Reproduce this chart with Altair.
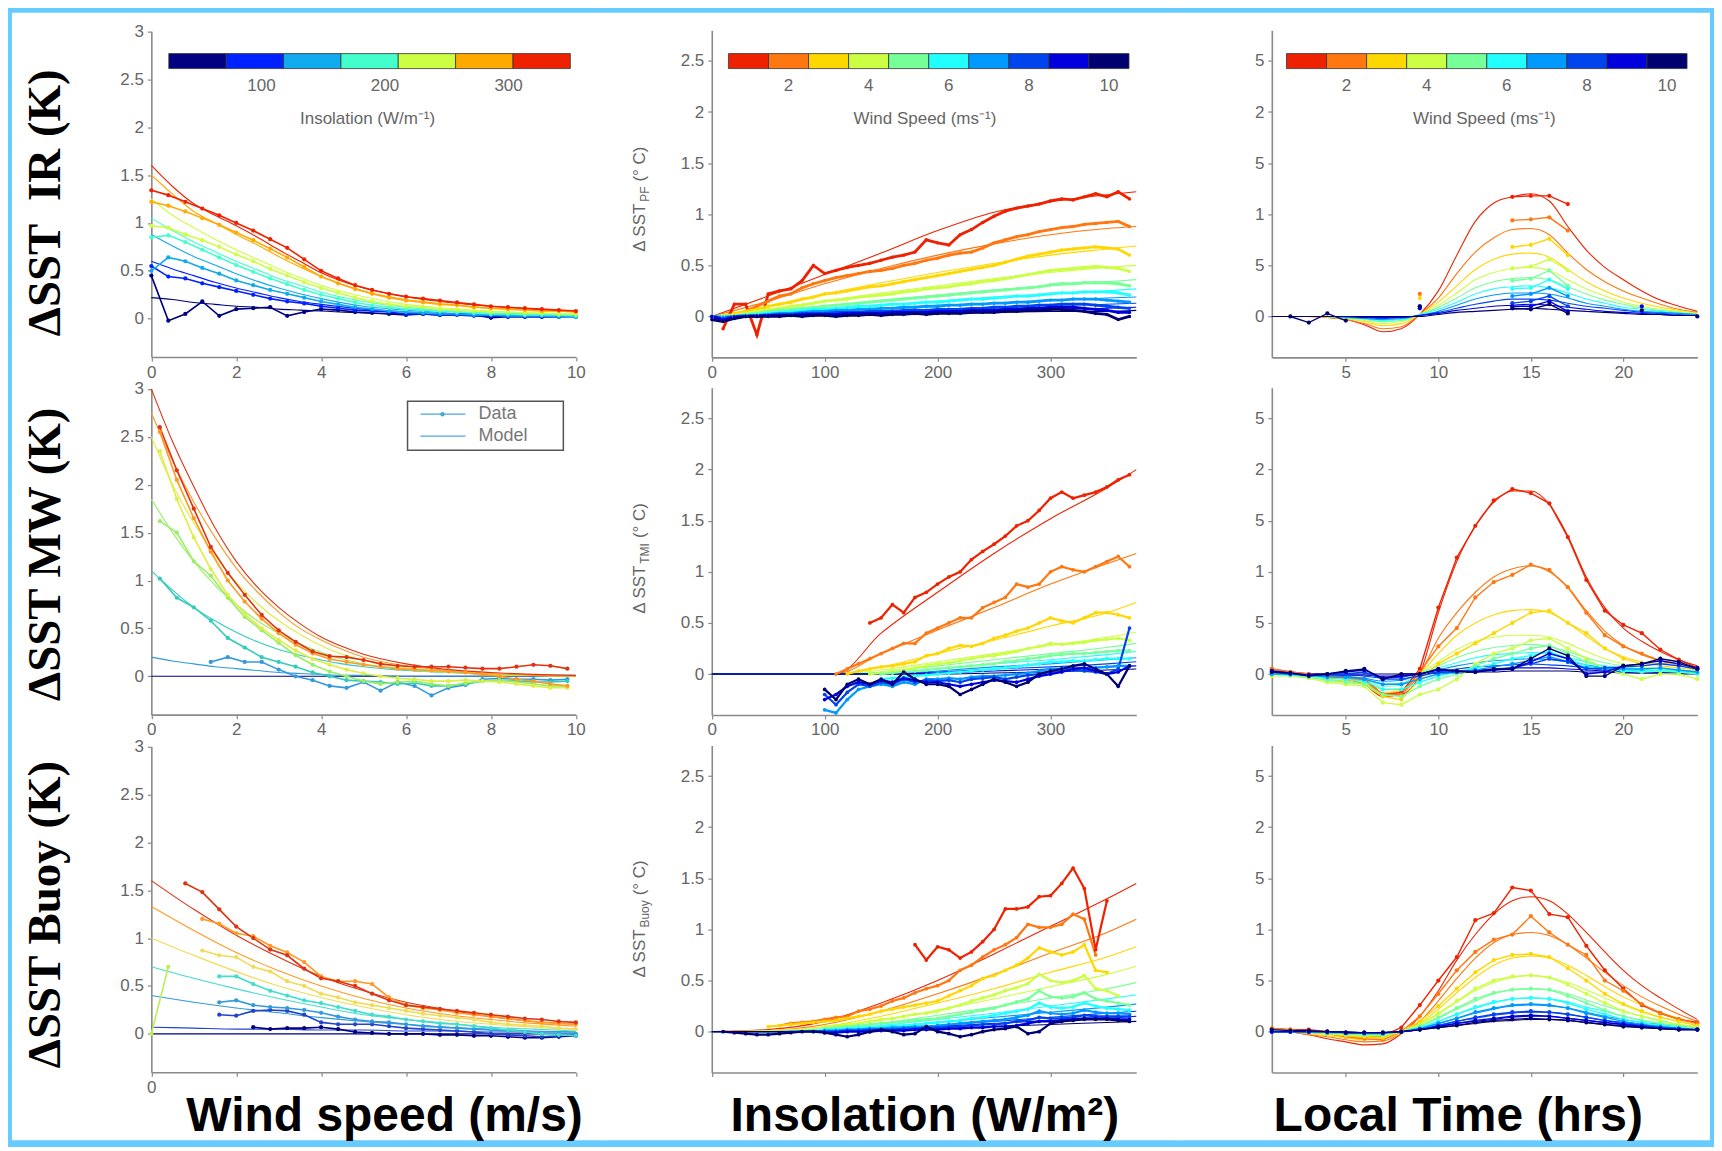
import altair as alt
import pandas as pd

N = None

# ---------------- classes and colours ----------------
INSOL_CLASSES = ["I1", "I2", "I3", "I4", "I5", "I6", "I7"]
INSOL_COLORS = ["#000080", "#0022FF", "#11AAEE", "#44FFCC", "#CCFF44", "#FFAA00", "#EE2200"]
MW_CLASSES = ["M1", "M2", "M3", "M4", "M5", "M6", "M7"]
MW_COLORS = ["#000080", "#3399DD", "#33CCBB", "#99EE66", "#DDEE44", "#FF9922", "#DD3311"]
BUOY_CLASSES = ["B1", "B2", "B3", "B4", "B5", "B6", "B7", "B8"]
BUOY_COLORS = ["#000080", "#2244CC", "#3399DD", "#44DDCC", "#BBEE55", "#EEDD55", "#FF9922", "#DD3311"]
WIND_CLASSES = ["W1", "W2", "W3", "W4", "W5", "W6", "W7", "W8", "W9", "W10"]
WIND_COLORS = ["#EE2200", "#FF7711", "#FFD700", "#CCFF44", "#77FF99", "#22FFFF",
               "#0099FF", "#0044EE", "#0000DD", "#000070"]

# colour bars
INSOL_CB_EDGES = [25, 71.4, 117.9, 164.3, 210.7, 257.1, 303.6, 350]
INSOL_CB_TICKS = [100, 200, 300]
WIND_CB_EDGES = [0.5, 1.5, 2.5, 3.5, 4.5, 5.5, 6.5, 7.5, 8.5, 9.5, 10.5]
WIND_CB_TICKS = [2, 4, 6, 8, 10]

# texts
ROW_TITLES = ["\u0394SST \u00a0IR (K)", "\u0394SST MW (K)", "\u0394SST Buoy (K)"]
COL_TITLES = ["Wind speed (m/s)", "Insolation (W/m\u00b2)", "Local Time (hrs)"]
YLABEL_MAIN = "\u0394 SST"
YLABEL_SUBS = ["PF", "TMI", "Buoy"]
YLABEL_UNIT = "(\u00b0 C)"
CB_TITLES = ["Insolation (W/m\u207b\u00b9)", "Wind Speed (ms\u207b\u00b9)", "Wind Speed (ms\u207b\u00b9)"]
LEGEND_LABELS = ["Data", "Model"]

# ---------------- tick values ----------------
WS_TICKS = [0, 2, 4, 6, 8, 10]
INS_TICKS = [0, 100, 200, 300]
LT_TICKS = [5, 10, 15, 20]
Y3_TICKS = [0, 0.5, 1, 1.5, 2, 2.5, 3]
Y25_TICKS = [0, 0.5, 1, 1.5, 2, 2.5]

# =============== Panel 1,1 : IR vs wind speed (classes I1..I7) ===============
IR_WS_X = [0.0, 0.4, 0.8, 1.2, 1.6, 2.0, 2.4, 2.8, 3.2, 3.6, 4.0, 4.4, 4.8, 5.2, 5.6,
           6.0, 6.4, 6.8, 7.2, 7.6, 8.0, 8.4, 8.8, 9.2, 9.6, 10.0]
IR_WS_DATA = [
    [0.45, -0.02, 0.05, 0.18, 0.03, 0.10, 0.11, 0.12, 0.03, 0.07, 0.10, 0.09, 0.07, 0.06, 0.05, 0.04, 0.05, 0.04, 0.05, 0.04, 0.01, 0.02, 0.02, 0.02, 0.02, 0.03],
    [0.55, 0.44, 0.42, 0.37, 0.33, 0.29, 0.25, 0.21, 0.18, 0.16, 0.13, 0.11, 0.09, 0.08, 0.07, 0.05, 0.05, 0.04, 0.04, 0.03, 0.03, 0.02, 0.02, 0.02, 0.02, 0.02],
    [0.50, 0.64, 0.60, 0.53, 0.47, 0.40, 0.35, 0.30, 0.26, 0.22, 0.18, 0.15, 0.12, 0.10, 0.08, 0.07, 0.06, 0.05, 0.05, 0.04, 0.04, 0.03, 0.03, 0.03, 0.02, 0.02],
    [0.85, 0.87, 0.80, 0.72, 0.64, 0.56, 0.49, 0.42, 0.36, 0.30, 0.25, 0.21, 0.17, 0.14, 0.12, 0.10, 0.09, 0.08, 0.07, 0.06, 0.05, 0.05, 0.04, 0.04, 0.04, 0.03],
    [0.97, 0.95, 0.88, 0.82, 0.75, 0.67, 0.60, 0.52, 0.45, 0.38, 0.32, 0.27, 0.22, 0.18, 0.15, 0.13, 0.12, 0.10, 0.09, 0.08, 0.07, 0.07, 0.06, 0.06, 0.05, 0.05],
    [1.22, 1.18, 1.12, 1.05, 0.98, 0.90, 0.82, 0.73, 0.64, 0.54, 0.44, 0.37, 0.31, 0.26, 0.22, 0.19, 0.17, 0.15, 0.14, 0.12, 0.11, 0.10, 0.09, 0.08, 0.08, 0.07],
    [1.34, 1.29, 1.22, 1.15, 1.08, 1.00, 0.92, 0.83, 0.74, 0.62, 0.50, 0.42, 0.35, 0.30, 0.26, 0.23, 0.21, 0.19, 0.17, 0.15, 0.13, 0.12, 0.11, 0.10, 0.09, 0.08],
]
IR_WS_MODEL_X = [0, 0.5, 1, 1.5, 2, 2.5, 3, 3.5, 4, 5, 6, 7, 8, 9, 10]
IR_WS_MODEL = [
    [0.22, 0.20, 0.17, 0.15, 0.13, 0.12, 0.10, 0.09, 0.08, 0.06, 0.05, 0.04, 0.03, 0.03, 0.02],
    [0.60, 0.52, 0.45, 0.38, 0.32, 0.27, 0.22, 0.18, 0.15, 0.10, 0.07, 0.05, 0.04, 0.03, 0.03],
    [0.88, 0.76, 0.65, 0.56, 0.47, 0.39, 0.32, 0.26, 0.21, 0.13, 0.09, 0.06, 0.05, 0.04, 0.03],
    [1.05, 0.92, 0.80, 0.70, 0.60, 0.51, 0.42, 0.35, 0.28, 0.18, 0.12, 0.08, 0.06, 0.05, 0.04],
    [1.25, 1.08, 0.95, 0.83, 0.72, 0.62, 0.52, 0.43, 0.35, 0.23, 0.15, 0.11, 0.08, 0.06, 0.05],
    [1.50, 1.30, 1.12, 1.00, 0.88, 0.77, 0.65, 0.54, 0.44, 0.29, 0.20, 0.15, 0.11, 0.09, 0.07],
    [1.60, 1.38, 1.20, 1.08, 0.97, 0.85, 0.72, 0.60, 0.48, 0.32, 0.23, 0.17, 0.13, 0.10, 0.08],
]

# =============== Panel 1,2 : IR vs insolation (W1..W10) ===============
IR_INS_X = [0, 10, 20, 30, 40, 50, 60, 70, 80, 90, 100, 110, 120, 130, 140, 150, 160, 170, 180,
            190, 200, 210, 220, 230, 240, 250, 260, 270, 280, 290, 300, 310, 320, 330, 340, 350, 360, 370]
IR_INS_DATA = [
    [N, -0.12, 0.12, 0.12, -0.18, 0.22, 0.25, 0.27, 0.35, 0.50, 0.42, 0.45, 0.48, 0.50, 0.52, 0.55, 0.58, 0.60, 0.63, 0.75, 0.72, 0.70, 0.80, 0.85, 0.92, 0.98, 1.03, 1.06, 1.08, 1.10, 1.13, 1.15, 1.14, 1.17, 1.20, 1.17, 1.22, 1.15],
    [0.00, -0.05, 0.00, 0.05, 0.10, 0.15, 0.20, 0.22, 0.28, 0.32, 0.35, 0.38, 0.40, 0.42, 0.44, 0.45, 0.47, 0.50, 0.52, 0.55, 0.57, 0.60, 0.62, 0.63, 0.67, 0.72, 0.75, 0.78, 0.80, 0.83, 0.85, 0.87, 0.88, 0.90, 0.91, 0.92, 0.93, 0.88],
    [0.00, 0.00, 0.02, 0.05, 0.07, 0.10, 0.12, 0.14, 0.17, 0.19, 0.22, 0.23, 0.25, 0.27, 0.29, 0.30, 0.32, 0.34, 0.36, 0.38, 0.40, 0.42, 0.44, 0.46, 0.48, 0.50, 0.53, 0.56, 0.59, 0.61, 0.63, 0.65, 0.66, 0.67, 0.68, 0.67, 0.66, 0.60],
    [0.00, 0.00, 0.01, 0.03, 0.05, 0.07, 0.08, 0.10, 0.11, 0.13, 0.15, 0.16, 0.17, 0.19, 0.20, 0.21, 0.22, 0.24, 0.25, 0.27, 0.28, 0.29, 0.31, 0.32, 0.34, 0.35, 0.37, 0.39, 0.41, 0.43, 0.45, 0.46, 0.47, 0.48, 0.49, 0.48, 0.47, 0.44],
    [0.00, 0.00, 0.00, 0.02, 0.03, 0.05, 0.06, 0.07, 0.08, 0.09, 0.10, 0.11, 0.12, 0.13, 0.14, 0.15, 0.16, 0.17, 0.18, 0.19, 0.20, 0.21, 0.22, 0.23, 0.24, 0.25, 0.26, 0.27, 0.28, 0.29, 0.31, 0.32, 0.32, 0.33, 0.33, 0.33, 0.32, 0.30],
    [0.00, 0.00, 0.00, 0.01, 0.02, 0.03, 0.04, 0.05, 0.06, 0.07, 0.07, 0.08, 0.09, 0.10, 0.10, 0.11, 0.12, 0.12, 0.13, 0.14, 0.14, 0.15, 0.16, 0.17, 0.17, 0.18, 0.19, 0.20, 0.20, 0.21, 0.22, 0.23, 0.23, 0.24, 0.24, 0.24, 0.23, 0.21],
    [0.00, -0.01, 0.00, 0.01, 0.01, 0.02, 0.03, 0.03, 0.04, 0.05, 0.05, 0.06, 0.06, 0.07, 0.07, 0.08, 0.08, 0.09, 0.09, 0.10, 0.10, 0.11, 0.11, 0.12, 0.12, 0.13, 0.13, 0.14, 0.14, 0.15, 0.16, 0.16, 0.17, 0.17, 0.17, 0.16, 0.15, 0.14],
    [0.00, -0.02, 0.00, 0.00, 0.01, 0.01, 0.02, 0.02, 0.03, 0.03, 0.03, 0.04, 0.04, 0.04, 0.05, 0.05, 0.05, 0.06, 0.06, 0.06, 0.07, 0.07, 0.07, 0.08, 0.08, 0.09, 0.09, 0.10, 0.10, 0.11, 0.11, 0.12, 0.12, 0.12, 0.11, 0.10, 0.09, 0.08],
    [0.00, -0.03, -0.01, 0.00, 0.00, 0.01, 0.01, 0.01, 0.02, 0.02, 0.02, 0.02, 0.03, 0.03, 0.03, 0.03, 0.04, 0.04, 0.04, 0.04, 0.05, 0.05, 0.05, 0.06, 0.06, 0.06, 0.07, 0.07, 0.08, 0.08, 0.09, 0.09, 0.09, 0.08, 0.07, 0.06, 0.04, 0.04],
    [-0.03, -0.05, -0.02, 0.00, 0.00, 0.00, 0.00, 0.01, 0.00, 0.01, 0.01, 0.00, 0.01, 0.01, 0.02, 0.01, 0.02, 0.02, 0.03, 0.02, 0.03, 0.03, 0.03, 0.04, 0.04, 0.04, 0.05, 0.05, 0.06, 0.06, 0.07, 0.07, 0.06, 0.05, 0.03, 0.02, -0.03, 0.00],
]
IR_INS_MODEL_X = [0, 50, 100, 150, 200, 250, 300, 350, 376]
IR_INS_MODEL = [
    [0.00, 0.20, 0.41, 0.62, 0.84, 1.02, 1.12, 1.19, 1.22],
    [0.00, 0.15, 0.32, 0.47, 0.60, 0.71, 0.80, 0.86, 0.88],
    [0.00, 0.10, 0.22, 0.33, 0.43, 0.52, 0.60, 0.66, 0.69],
    [0.00, 0.07, 0.15, 0.23, 0.30, 0.37, 0.43, 0.48, 0.50],
    [0.00, 0.05, 0.10, 0.16, 0.21, 0.26, 0.30, 0.34, 0.36],
    [0.00, 0.03, 0.07, 0.11, 0.15, 0.19, 0.22, 0.25, 0.27],
    [0.00, 0.02, 0.05, 0.08, 0.11, 0.13, 0.16, 0.18, 0.19],
    [0.00, 0.01, 0.03, 0.05, 0.07, 0.09, 0.11, 0.12, 0.13],
    [0.00, 0.01, 0.02, 0.03, 0.05, 0.06, 0.07, 0.08, 0.09],
    [0.00, 0.00, 0.01, 0.02, 0.03, 0.04, 0.05, 0.05, 0.06],
]

# =============== Panel 1,3 : IR vs local time (W1..W10) ===============
HOURS = [1, 2, 3, 4, 5, 6, 7, 8, 9, 10, 11, 12, 13, 14, 15, 16, 17, 18, 19, 20, 21, 22, 23, 24]
IR_LT_DATA = [
    [N] * 13 + [1.17, 1.18, 1.18, 1.10] + [N] * 7,
    [N] * 8 + [0.22] + [N] * 4 + [0.94, 0.95, 0.97, 0.84] + [N] * 7,
    [N] * 8 + [0.18] + [N] * 4 + [0.68, 0.70, 0.76, 0.60] + [N] * 7,
    [N] * 13 + [0.47, 0.49, 0.56, 0.45] + [N] * 7,
    [N] * 13 + [0.35, 0.37, 0.45, 0.30] + [N] * 7,
    [N] * 13 + [0.27, 0.28, 0.36, 0.27] + [N] * 7,
    [N] * 13 + [0.20, 0.22, 0.28, 0.20] + [N] * 7,
    [N] * 8 + [0.10] + [N] * 4 + [0.13, 0.15, 0.20, 0.10] + [N] * 7,
    [N] * 8 + [0.08] + [N] * 4 + [0.10, 0.10, 0.15, 0.05] + [N] * 3 + [0.10] + [N] * 3,
    [N, 0.00, -0.06, 0.03, -0.04] + [N] * 3 + [0.10] + [N] * 4 + [0.08, 0.07, 0.12, 0.03] + [N] * 3 + [0.06] + [N] * 2 + [0.00],
]
IR_LT_MODEL = [
    [0.00, 0.00, 0.00, -0.01, -0.03, -0.08, -0.15, -0.12, 0.02, 0.25, 0.60, 0.93, 1.11, 1.17, 1.20, 1.13, 0.88, 0.65, 0.48, 0.36, 0.25, 0.16, 0.10, 0.05],
    [0.00, 0.00, 0.00, -0.01, -0.03, -0.07, -0.12, -0.10, 0.02, 0.18, 0.42, 0.63, 0.77, 0.85, 0.86, 0.80, 0.62, 0.46, 0.34, 0.25, 0.18, 0.12, 0.07, 0.04],
    [0.00, 0.00, 0.00, -0.01, -0.02, -0.05, -0.09, -0.07, 0.02, 0.14, 0.30, 0.46, 0.56, 0.61, 0.62, 0.58, 0.46, 0.34, 0.25, 0.18, 0.13, 0.09, 0.06, 0.03],
    [0.00, 0.00, 0.00, 0.00, -0.02, -0.04, -0.07, -0.05, 0.02, 0.11, 0.23, 0.36, 0.43, 0.47, 0.48, 0.45, 0.36, 0.27, 0.20, 0.14, 0.10, 0.07, 0.05, 0.03],
    [0.00, 0.00, 0.00, 0.00, -0.01, -0.03, -0.05, -0.04, 0.02, 0.09, 0.18, 0.28, 0.34, 0.37, 0.38, 0.36, 0.29, 0.22, 0.16, 0.12, 0.08, 0.06, 0.04, 0.02],
    [0.00, 0.00, 0.00, 0.00, -0.01, -0.02, -0.04, -0.03, 0.02, 0.07, 0.14, 0.22, 0.27, 0.29, 0.30, 0.28, 0.23, 0.17, 0.13, 0.09, 0.07, 0.05, 0.03, 0.02],
    [0.00, 0.00, 0.00, 0.00, -0.01, -0.02, -0.03, -0.02, 0.01, 0.05, 0.11, 0.17, 0.21, 0.23, 0.23, 0.22, 0.18, 0.13, 0.10, 0.07, 0.05, 0.04, 0.03, 0.02],
    [0.00, 0.00, 0.00, 0.00, 0.00, -0.01, -0.02, -0.01, 0.01, 0.04, 0.08, 0.12, 0.15, 0.17, 0.17, 0.16, 0.13, 0.10, 0.08, 0.06, 0.04, 0.03, 0.02, 0.01],
    [0.00, 0.00, 0.00, 0.00, 0.00, -0.01, -0.01, -0.01, 0.01, 0.03, 0.06, 0.08, 0.10, 0.11, 0.12, 0.11, 0.09, 0.07, 0.05, 0.04, 0.03, 0.02, 0.01, 0.01],
    [0.00, 0.00, 0.00, 0.00, 0.00, 0.00, 0.00, 0.00, 0.00, 0.02, 0.04, 0.05, 0.06, 0.07, 0.08, 0.07, 0.06, 0.05, 0.04, 0.03, 0.02, 0.02, 0.01, 0.01],
]

# =============== Panel 2,1 : MW vs wind speed (M1..M7) ===============
MW_WS_X = [0.2, 0.6, 1.0, 1.4, 1.8, 2.2, 2.6, 3.0, 3.4, 3.8, 4.2, 4.6, 5.0, 5.4, 5.8,
           6.2, 6.6, 7.0, 7.4, 7.8, 8.2, 8.6, 9.0, 9.4, 9.8]
MW_WS_DATA = [
    [N] * 25,
    [N, N, N, 0.15, 0.20, 0.15, 0.15, 0.07, 0.00, -0.04, -0.10, -0.12, -0.06, -0.15, -0.06, -0.10, -0.20, -0.12, -0.09, -0.03, -0.02, -0.03, -0.03, -0.04, -0.03],
    [1.02, 0.82, 0.72, 0.58, 0.40, 0.30, 0.20, 0.15, 0.10, 0.04, 0.00, -0.04, -0.05, -0.06, -0.08, -0.07, -0.10, -0.10, -0.08, -0.05, -0.04, -0.05, -0.06, -0.06, -0.05],
    [1.62, 1.50, 1.20, 1.05, 0.82, 0.62, 0.48, 0.35, 0.22, 0.12, 0.05, 0.00, -0.05, -0.08, -0.06, -0.05, -0.08, -0.10, -0.07, -0.05, -0.04, -0.06, -0.08, -0.10, -0.10],
    [2.35, 1.85, 1.45, 1.12, 0.85, 0.65, 0.50, 0.38, 0.27, 0.18, 0.12, 0.07, 0.03, 0.00, -0.02, -0.03, -0.05, -0.05, -0.04, -0.05, -0.06, -0.08, -0.10, -0.12, -0.12],
    [2.55, 2.05, 1.65, 1.30, 1.00, 0.78, 0.60, 0.45, 0.33, 0.24, 0.18, 0.15, 0.12, 0.10, 0.08, 0.07, 0.06, 0.05, 0.04, 0.02, 0.00, -0.03, -0.05, -0.08, -0.10],
    [2.60, 2.15, 1.75, 1.35, 1.08, 0.85, 0.64, 0.48, 0.36, 0.26, 0.21, 0.20, 0.17, 0.13, 0.11, 0.10, 0.10, 0.10, 0.09, 0.08, 0.08, 0.10, 0.12, 0.11, 0.08],
]
MW_WS_MODEL_X = [0, 0.5, 1, 1.5, 2, 2.5, 3, 3.5, 4, 4.5, 5, 6, 7, 8, 9, 10]
MW_WS_MODEL = [
    [0.00, 0.00, 0.00, 0.00, 0.00, 0.00, 0.00, 0.00, 0.00, 0.00, 0.00, 0.00, 0.00, 0.00, 0.00, 0.00],
    [0.20, 0.16, 0.13, 0.10, 0.08, 0.06, 0.04, 0.03, 0.02, 0.01, 0.01, 0.00, 0.00, 0.00, 0.00, 0.00],
    [1.10, 0.90, 0.72, 0.58, 0.46, 0.36, 0.28, 0.22, 0.17, 0.13, 0.10, 0.06, 0.04, 0.02, 0.01, 0.01],
    [1.85, 1.50, 1.20, 0.95, 0.75, 0.58, 0.45, 0.34, 0.25, 0.18, 0.13, 0.07, 0.04, 0.02, 0.01, 0.00],
    [2.50, 2.00, 1.60, 1.26, 0.98, 0.76, 0.58, 0.44, 0.32, 0.23, 0.17, 0.09, 0.05, 0.02, 0.01, 0.00],
    [2.75, 2.25, 1.82, 1.45, 1.13, 0.88, 0.67, 0.50, 0.38, 0.28, 0.20, 0.11, 0.06, 0.03, 0.01, 0.00],
    [3.00, 2.45, 1.98, 1.55, 1.20, 0.93, 0.72, 0.55, 0.41, 0.31, 0.23, 0.13, 0.07, 0.04, 0.02, 0.01],
]

# =============== Panel 2,2 : MW (TMI) vs insolation (W1..W10) ===============
TMI_X = [100, 110, 120, 130, 140, 150, 160, 170, 180, 190, 200, 210, 220, 230, 240, 250, 260,
         270, 280, 290, 300, 310, 320, 330, 340, 350, 360, 370]
TMI_DATA = [
    [N, N, N, N, 0.50, 0.55, 0.68, 0.60, 0.75, 0.80, 0.88, 0.95, 1.00, 1.12, 1.20, 1.27, 1.35, 1.45, 1.50, 1.60, 1.72, 1.78, 1.72, 1.75, 1.78, 1.83, 1.90, 1.95],
    [N, 0.00, 0.05, 0.10, 0.15, 0.20, 0.25, 0.30, 0.30, 0.40, 0.45, 0.50, 0.55, 0.55, 0.65, 0.70, 0.75, 0.88, 0.85, 0.88, 1.00, 1.05, 1.02, 1.00, 1.05, 1.10, 1.15, 1.05],
    [N, N, 0.00, 0.03, 0.05, 0.07, 0.08, 0.10, 0.12, 0.18, 0.20, 0.25, 0.28, 0.27, 0.30, 0.35, 0.38, 0.42, 0.45, 0.50, 0.55, 0.52, 0.50, 0.55, 0.60, 0.60, 0.58, 0.55],
    [N, N, N, N, 0.00, 0.01, 0.03, 0.04, 0.06, 0.08, 0.10, 0.11, 0.13, 0.15, 0.17, 0.18, 0.20, 0.22, 0.25, 0.27, 0.30, 0.29, 0.30, 0.31, 0.33, 0.34, 0.35, 0.33],
    [N, N, N, N, N, 0.00, 0.01, 0.02, 0.03, 0.04, 0.05, 0.06, 0.07, 0.08, 0.09, 0.10, 0.12, 0.13, 0.15, 0.16, 0.18, 0.19, 0.20, 0.20, 0.21, 0.22, 0.23, 0.23],
    [N, N, N, N, N, -0.05, -0.04, -0.03, -0.02, -0.01, 0.00, 0.01, 0.02, 0.03, 0.04, 0.05, 0.06, 0.07, 0.09, 0.10, 0.12, 0.12, 0.13, 0.13, 0.14, 0.15, 0.15, 0.15],
    [-0.35, -0.38, -0.25, -0.15, -0.12, -0.10, -0.12, -0.08, -0.10, -0.05, -0.05, -0.04, -0.05, -0.03, -0.02, -0.02, -0.01, 0.00, 0.01, 0.03, 0.05, 0.05, 0.04, 0.05, 0.06, 0.07, 0.08, 0.08],
    [-0.20, -0.30, -0.18, -0.10, -0.12, -0.08, -0.10, -0.05, -0.08, -0.06, -0.07, -0.06, -0.08, -0.05, -0.04, -0.03, -0.05, -0.03, -0.01, 0.00, 0.02, 0.03, 0.04, 0.03, 0.02, 0.00, 0.05, 0.45],
    [-0.25, -0.20, -0.12, -0.08, -0.10, -0.06, -0.08, -0.04, -0.06, -0.08, -0.08, -0.10, -0.12, -0.10, -0.08, -0.06, -0.07, -0.08, -0.05, -0.02, 0.00, 0.02, 0.05, 0.06, 0.03, 0.00, 0.02, 0.08],
    [-0.15, -0.25, -0.10, -0.05, -0.10, -0.05, -0.10, 0.02, -0.05, -0.10, -0.10, -0.12, -0.20, -0.15, -0.10, -0.05, -0.08, -0.12, -0.08, 0.00, 0.03, 0.05, 0.08, 0.10, 0.05, 0.00, -0.12, 0.08],
]
TMI_MODEL_X = [0, 110, 150, 200, 250, 300, 350, 376]
TMI_MODEL = [
    [0.00, 0.00, 0.40, 0.80, 1.18, 1.52, 1.82, 2.00],
    [0.00, 0.00, 0.20, 0.43, 0.65, 0.88, 1.08, 1.18],
    [0.00, 0.00, 0.07, 0.20, 0.33, 0.47, 0.60, 0.70],
    [0.00, 0.00, 0.04, 0.12, 0.20, 0.28, 0.36, 0.41],
    [0.00, 0.00, 0.02, 0.08, 0.14, 0.20, 0.26, 0.30],
    [0.00, 0.00, 0.01, 0.05, 0.10, 0.14, 0.19, 0.22],
    [0.00, 0.00, 0.00, 0.03, 0.07, 0.10, 0.14, 0.16],
    [0.00, 0.00, 0.00, 0.02, 0.05, 0.07, 0.10, 0.12],
    [0.00, 0.00, 0.00, 0.01, 0.03, 0.05, 0.07, 0.08],
    [0.00, 0.00, 0.00, 0.00, 0.01, 0.02, 0.04, 0.05],
]

# =============== Panel 2,3 : MW vs local time (W1..W10) ===============
MW_LT_DATA = [
    [0.05, 0.02, 0.00, -0.02, -0.03, -0.05, -0.20, -0.18, 0.05, 0.65, 1.14, 1.45, 1.70, 1.81, 1.77, 1.67, 1.34, 0.92, 0.62, 0.48, 0.40, 0.24, 0.14, 0.06],
    [0.05, 0.02, 0.00, -0.02, -0.04, -0.06, -0.20, -0.20, 0.02, 0.27, 0.45, 0.75, 0.90, 0.97, 1.07, 1.02, 0.85, 0.60, 0.38, 0.27, 0.20, 0.13, 0.10, 0.05],
    [0.00, 0.00, -0.02, -0.05, -0.07, -0.10, -0.22, -0.25, -0.05, 0.10, 0.20, 0.30, 0.40, 0.50, 0.60, 0.62, 0.50, 0.40, 0.25, 0.15, 0.10, 0.10, 0.10, 0.05],
    [-0.02, -0.02, -0.04, -0.08, -0.10, -0.12, -0.28, -0.30, -0.20, -0.15, -0.05, 0.10, 0.20, 0.25, 0.33, 0.35, 0.25, 0.15, 0.05, 0.00, -0.05, 0.00, 0.00, -0.05],
    [0.00, -0.01, -0.03, -0.06, -0.08, -0.10, -0.20, -0.22, -0.12, -0.05, 0.00, 0.08, 0.15, 0.20, 0.25, 0.28, 0.20, 0.12, 0.06, 0.03, 0.02, 0.03, 0.02, 0.00],
    [0.00, -0.01, -0.02, -0.04, -0.05, -0.07, -0.15, -0.15, -0.08, -0.02, 0.02, 0.06, 0.10, 0.15, 0.18, 0.22, 0.15, 0.08, 0.05, 0.03, 0.03, 0.04, 0.03, 0.01],
    [0.00, 0.00, -0.01, -0.03, -0.03, -0.05, -0.10, -0.10, -0.05, 0.00, 0.02, 0.04, 0.07, 0.10, 0.13, 0.17, 0.12, 0.06, 0.05, 0.05, 0.05, 0.06, 0.04, 0.02],
    [0.02, 0.00, -0.01, -0.01, 0.00, 0.02, -0.05, -0.05, -0.02, 0.02, 0.02, 0.03, 0.04, 0.06, 0.10, 0.15, 0.12, 0.05, 0.06, 0.07, 0.08, 0.10, 0.08, 0.05],
    [0.03, 0.01, -0.01, 0.00, 0.02, 0.04, -0.04, -0.02, 0.00, 0.04, 0.03, 0.02, 0.04, 0.05, 0.12, 0.20, 0.15, 0.00, 0.02, 0.08, 0.10, 0.13, 0.10, 0.06],
    [0.02, 0.01, -0.02, 0.00, 0.03, 0.05, -0.05, 0.00, 0.00, 0.05, 0.03, 0.02, 0.05, 0.05, 0.15, 0.25, 0.18, -0.02, -0.02, 0.08, 0.10, 0.15, 0.12, 0.05],
]
MW_LT_MODEL = [
    [0.03, 0.01, -0.01, -0.03, -0.05, -0.10, -0.22, -0.20, 0.00, 0.60, 1.10, 1.45, 1.68, 1.79, 1.79, 1.66, 1.35, 0.95, 0.65, 0.45, 0.32, 0.22, 0.14, 0.08],
    [0.03, 0.01, -0.01, -0.03, -0.05, -0.10, -0.20, -0.18, 0.00, 0.35, 0.60, 0.80, 0.95, 1.03, 1.06, 1.00, 0.85, 0.62, 0.42, 0.28, 0.19, 0.13, 0.09, 0.06],
    [0.02, 0.00, -0.01, -0.03, -0.05, -0.09, -0.18, -0.16, 0.00, 0.20, 0.38, 0.50, 0.58, 0.62, 0.63, 0.60, 0.50, 0.37, 0.25, 0.17, 0.12, 0.08, 0.06, 0.04],
    [0.01, 0.00, -0.01, -0.03, -0.05, -0.08, -0.15, -0.14, 0.00, 0.12, 0.24, 0.32, 0.36, 0.38, 0.38, 0.36, 0.30, 0.22, 0.15, 0.10, 0.07, 0.05, 0.04, 0.03],
    [0.01, 0.00, -0.01, -0.02, -0.04, -0.06, -0.12, -0.11, 0.00, 0.08, 0.16, 0.22, 0.26, 0.28, 0.29, 0.27, 0.22, 0.16, 0.11, 0.08, 0.05, 0.04, 0.03, 0.02],
    [0.01, 0.00, -0.01, -0.02, -0.03, -0.05, -0.10, -0.09, 0.00, 0.06, 0.11, 0.16, 0.19, 0.20, 0.21, 0.20, 0.16, 0.12, 0.08, 0.06, 0.04, 0.03, 0.02, 0.02],
    [0.00, 0.00, 0.00, -0.01, -0.02, -0.04, -0.07, -0.06, 0.00, 0.04, 0.08, 0.11, 0.13, 0.14, 0.15, 0.14, 0.12, 0.09, 0.06, 0.04, 0.03, 0.02, 0.02, 0.01],
    [0.00, 0.00, 0.00, -0.01, -0.01, -0.02, -0.04, -0.03, 0.00, 0.02, 0.05, 0.07, 0.08, 0.09, 0.10, 0.09, 0.08, 0.06, 0.04, 0.03, 0.02, 0.02, 0.01, 0.01],
    [0.00, 0.00, 0.00, 0.00, -0.01, -0.01, -0.02, -0.02, 0.00, 0.01, 0.03, 0.04, 0.05, 0.06, 0.06, 0.06, 0.05, 0.04, 0.03, 0.02, 0.01, 0.01, 0.01, 0.00],
    [0.00, 0.00, 0.00, 0.00, 0.00, 0.00, 0.00, 0.00, 0.00, 0.01, 0.01, 0.02, 0.02, 0.03, 0.03, 0.03, 0.03, 0.02, 0.02, 0.01, 0.01, 0.01, 0.00, 0.00],
]

# =============== Panel 3,1 : Buoy vs wind speed (B1..B8) ===============
BUOY_WS_X = [0.0, 0.4, 0.8, 1.2, 1.6, 2.0, 2.4, 2.8, 3.2, 3.6, 4.0, 4.4, 4.8, 5.2, 5.6,
             6.0, 6.4, 6.8, 7.2, 7.6, 8.0, 8.4, 8.8, 9.2, 9.6, 10.0]
BUOY_WS_DATA = [
    [N, N, N, N, N, N, 0.07, 0.05, 0.06, 0.06, 0.07, 0.05, 0.02, 0.01, 0.00, 0.00, 0.00, -0.01, -0.01, -0.02, -0.02, -0.03, -0.04, -0.04, -0.03, -0.02],
    [N, N, N, N, 0.20, 0.19, 0.24, 0.25, 0.24, 0.20, 0.12, 0.10, 0.10, 0.10, 0.08, 0.06, 0.05, 0.04, 0.03, 0.02, 0.00, -0.01, -0.02, -0.03, -0.02, -0.01],
    [N, N, N, N, 0.33, 0.35, 0.30, 0.28, 0.27, 0.25, 0.22, 0.18, 0.15, 0.13, 0.12, 0.10, 0.08, 0.07, 0.06, 0.05, 0.04, 0.03, 0.02, 0.01, 0.00, 0.00],
    [N, N, N, N, 0.60, 0.60, 0.52, 0.45, 0.40, 0.35, 0.32, 0.28, 0.24, 0.20, 0.18, 0.15, 0.13, 0.11, 0.10, 0.08, 0.06, 0.04, 0.02, 0.00, -0.01, -0.02],
    [0.00, 0.70] + [N] * 24,
    [N, N, N, 0.87, 0.82, 0.80, 0.70, 0.65, 0.55, 0.50, 0.42, 0.38, 0.33, 0.30, 0.27, 0.24, 0.21, 0.19, 0.17, 0.15, 0.12, 0.10, 0.09, 0.08, 0.06, 0.05],
    [N, N, N, 1.20, 1.15, 1.05, 1.02, 0.92, 0.85, 0.75, 0.60, 0.55, 0.55, 0.52, 0.38, 0.30, 0.27, 0.25, 0.22, 0.20, 0.18, 0.16, 0.14, 0.12, 0.11, 0.10],
    [N, N, 1.57, 1.48, 1.30, 1.12, 1.00, 0.88, 0.82, 0.68, 0.58, 0.55, 0.50, 0.42, 0.35, 0.30, 0.28, 0.26, 0.24, 0.22, 0.20, 0.18, 0.16, 0.15, 0.13, 0.12],
]
BUOY_WS_MODEL_X = [0, 1, 2, 3, 4, 5, 6, 7, 8, 9, 10]
BUOY_WS_MODEL = [
    [0.00, 0.00, 0.00, 0.00, 0.00, 0.00, 0.00, 0.00, 0.00, 0.00, 0.00],
    [0.07, 0.06, 0.05, 0.05, 0.04, 0.04, 0.03, 0.03, 0.02, 0.02, 0.02],
    [0.40, 0.33, 0.27, 0.22, 0.17, 0.13, 0.10, 0.07, 0.05, 0.03, 0.02],
    [0.70, 0.58, 0.47, 0.37, 0.28, 0.20, 0.15, 0.11, 0.07, 0.05, 0.03],
    [N, N, N, N, N, N, N, N, N, N, N],
    [1.00, 0.82, 0.65, 0.50, 0.38, 0.28, 0.20, 0.14, 0.10, 0.07, 0.05],
    [1.33, 1.08, 0.85, 0.66, 0.50, 0.37, 0.27, 0.20, 0.15, 0.11, 0.08],
    [1.60, 1.30, 1.03, 0.80, 0.60, 0.45, 0.33, 0.25, 0.18, 0.13, 0.10],
]

# =============== Panel 3,2 : Buoy vs insolation (W1..W10) ===============
BUOY_INS_X = [10, 20, 30, 40, 50, 60, 70, 80, 90, 100, 110, 120, 130, 140, 150, 160, 170, 180, 190,
              200, 210, 220, 230, 240, 250, 260, 270, 280, 290, 300, 310, 320, 330, 340, 350, 360, 370]
BUOY_INS_DATA = [
    [N] * 17 + [0.85, 0.70, 0.83, 0.80, 0.72, 0.78, 0.88, 1.00, 1.20, 1.20, 1.22, 1.32, 1.33, 1.45, 1.60, 1.40, 0.80, 1.28] + [N, N],
    [N] * 5 + [0.06, 0.08, 0.09, 0.10, 0.12, 0.14, 0.15, 0.20, 0.22, 0.25, 0.30, 0.33, 0.38, 0.42, 0.45, 0.50, 0.60, 0.65, 0.73, 0.80, 0.85, 0.92, 1.05, 1.02, 1.02, 1.05, 1.15, 1.10, 0.75] + [N] * 3,
    [N] * 4 + [0.05, 0.06, 0.07, 0.08, 0.09, 0.10, 0.11, 0.13, 0.15, 0.17, 0.20, 0.22, 0.24, 0.26, 0.28, 0.30, 0.35, 0.40, 0.45, 0.52, 0.55, 0.60, 0.65, 0.72, 0.82, 0.78, 0.75, 0.78, 0.85, 0.60, 0.58] + [N, N],
    [N] * 9 + [0.05, 0.06, 0.07, 0.08, 0.10, 0.12, 0.13, 0.15, 0.17, 0.18, 0.20, 0.23, 0.26, 0.30, 0.33, 0.36, 0.40, 0.43, 0.47, 0.56, 0.50, 0.48, 0.50, 0.55, 0.42, 0.40, 0.35] + [N],
    [N] * 9 + [0.03, 0.04, 0.05, 0.06, 0.07, 0.08, 0.09, 0.10, 0.11, 0.12, 0.13, 0.15, 0.17, 0.19, 0.21, 0.23, 0.26, 0.29, 0.32, 0.40, 0.34, 0.33, 0.34, 0.38, 0.32, 0.30, 0.28, 0.26],
    [N] * 9 + [0.02, 0.02, 0.03, 0.04, 0.04, 0.05, 0.06, 0.06, 0.07, 0.08, 0.09, 0.10, 0.11, 0.13, 0.14, 0.16, 0.18, 0.20, 0.22, 0.28, 0.24, 0.23, 0.24, 0.28, 0.25, 0.23, 0.22, 0.21],
    [N] * 9 + [0.01, 0.01, 0.02, 0.02, 0.03, 0.03, 0.04, 0.04, 0.05, 0.05, 0.06, 0.07, 0.08, 0.09, 0.10, 0.11, 0.12, 0.14, 0.16, 0.20, 0.18, 0.17, 0.18, 0.21, 0.19, 0.18, 0.18, 0.17],
    [N] * 9 + [0.00, 0.00, 0.01, 0.01, 0.02, 0.02, 0.02, 0.03, 0.03, 0.04, 0.04, 0.05, 0.05, 0.06, 0.07, 0.07, 0.08, 0.10, 0.11, 0.14, 0.13, 0.13, 0.14, 0.16, 0.15, 0.15, 0.15, 0.15],
    [N] * 9 + [-0.01, -0.01, 0.00, 0.00, 0.00, 0.01, 0.01, 0.01, 0.02, 0.02, 0.02, 0.03, 0.03, 0.04, 0.04, 0.05, 0.05, 0.06, 0.08, 0.10, 0.10, 0.11, 0.12, 0.13, 0.13, 0.13, 0.12, 0.12],
    [0.00, -0.01, -0.02, -0.03, -0.03, -0.02, -0.01, 0.00, 0.00, -0.01, -0.03, -0.05, -0.03, 0.00, 0.02, 0.00, -0.03, -0.02, 0.05, 0.00, -0.02, -0.05, -0.03, 0.00, 0.02, 0.03, 0.05, -0.02, 0.00, 0.08, 0.10, 0.11, 0.12, 0.12, 0.12, 0.11, 0.10],
]
BUOY_INS_MODEL_X = [0, 50, 100, 150, 200, 250, 300, 350, 376]
BUOY_INS_MODEL = [
    [0.00, 0.02, 0.10, 0.28, 0.50, 0.76, 1.03, 1.30, 1.45],
    [0.00, 0.01, 0.07, 0.20, 0.37, 0.56, 0.77, 0.97, 1.10],
    [0.00, 0.01, 0.05, 0.15, 0.28, 0.42, 0.58, 0.73, 0.83],
    [0.00, 0.01, 0.04, 0.11, 0.21, 0.32, 0.44, 0.56, 0.64],
    [0.00, 0.00, 0.03, 0.08, 0.16, 0.24, 0.33, 0.42, 0.48],
    [0.00, 0.00, 0.02, 0.06, 0.12, 0.18, 0.25, 0.32, 0.36],
    [0.00, 0.00, 0.01, 0.04, 0.09, 0.14, 0.19, 0.24, 0.27],
    [0.00, 0.00, 0.01, 0.03, 0.06, 0.10, 0.14, 0.18, 0.20],
    [0.00, 0.00, 0.00, 0.02, 0.05, 0.08, 0.11, 0.13, 0.15],
    [0.00, 0.00, 0.00, 0.01, 0.03, 0.05, 0.07, 0.09, 0.10],
]

# =============== Panel 3,3 : Buoy vs local time (W1..W10) ===============
BUOY_LT_DATA = [
    [0.03, 0.02, 0.02, 0.00, -0.03, -0.05, -0.04, 0.04, 0.26, 0.50, 0.73, 1.09, 1.16, 1.41, 1.38, 1.15, 1.12, 0.84, 0.60, 0.42, 0.26, 0.18, 0.12, 0.09],
    [0.03, 0.02, 0.00, -0.02, -0.05, -0.07, -0.08, 0.00, 0.15, 0.37, 0.60, 0.78, 0.90, 0.95, 1.13, 0.97, 0.85, 0.75, 0.50, 0.40, 0.27, 0.18, 0.12, 0.08],
    [0.02, 0.01, 0.00, -0.02, -0.04, -0.05, -0.06, 0.00, 0.10, 0.25, 0.42, 0.58, 0.70, 0.75, 0.76, 0.73, 0.62, 0.50, 0.37, 0.27, 0.20, 0.14, 0.10, 0.06],
    [0.01, 0.00, 0.00, -0.02, -0.03, -0.04, -0.04, 0.00, 0.07, 0.18, 0.30, 0.42, 0.50, 0.54, 0.55, 0.53, 0.46, 0.37, 0.28, 0.20, 0.15, 0.10, 0.07, 0.04],
    [0.01, 0.00, 0.00, -0.01, -0.02, -0.03, -0.03, 0.00, 0.05, 0.14, 0.23, 0.32, 0.38, 0.41, 0.42, 0.41, 0.35, 0.28, 0.21, 0.15, 0.11, 0.08, 0.05, 0.03],
    [0.01, 0.00, 0.00, -0.01, -0.02, -0.02, -0.02, 0.00, 0.04, 0.10, 0.17, 0.24, 0.29, 0.32, 0.33, 0.32, 0.28, 0.22, 0.17, 0.12, 0.09, 0.06, 0.04, 0.02],
    [0.00, 0.00, 0.00, -0.01, -0.01, -0.02, -0.02, 0.00, 0.03, 0.08, 0.13, 0.19, 0.23, 0.26, 0.27, 0.26, 0.23, 0.18, 0.14, 0.10, 0.07, 0.05, 0.03, 0.02],
    [0.00, 0.00, 0.00, 0.00, -0.01, -0.01, -0.01, 0.00, 0.02, 0.06, 0.10, 0.14, 0.17, 0.19, 0.20, 0.19, 0.17, 0.14, 0.11, 0.08, 0.06, 0.04, 0.03, 0.02],
    [0.00, 0.00, 0.00, 0.00, -0.01, -0.01, -0.01, 0.00, 0.02, 0.05, 0.08, 0.11, 0.13, 0.15, 0.16, 0.15, 0.13, 0.11, 0.09, 0.07, 0.05, 0.03, 0.02, 0.02],
    [0.02, 0.01, 0.01, 0.00, -0.01, -0.01, -0.01, 0.00, 0.02, 0.04, 0.06, 0.09, 0.11, 0.12, 0.13, 0.12, 0.11, 0.09, 0.07, 0.05, 0.04, 0.03, 0.02, 0.02],
]
BUOY_LT_MODEL = [
    [0.03, 0.00, -0.03, -0.07, -0.10, -0.13, -0.12, -0.02, 0.15, 0.40, 0.70, 0.95, 1.15, 1.28, 1.32, 1.28, 1.15, 0.97, 0.78, 0.60, 0.45, 0.33, 0.22, 0.12],
    [0.02, 0.00, -0.03, -0.05, -0.08, -0.10, -0.09, -0.02, 0.10, 0.30, 0.52, 0.72, 0.87, 0.95, 0.97, 0.94, 0.85, 0.72, 0.58, 0.45, 0.34, 0.25, 0.17, 0.10],
    [0.02, 0.00, -0.02, -0.04, -0.06, -0.08, -0.07, -0.01, 0.08, 0.22, 0.38, 0.53, 0.65, 0.72, 0.74, 0.72, 0.65, 0.55, 0.44, 0.34, 0.26, 0.19, 0.13, 0.08],
    [0.01, 0.00, -0.01, -0.03, -0.04, -0.06, -0.05, -0.01, 0.06, 0.17, 0.29, 0.40, 0.48, 0.53, 0.55, 0.53, 0.48, 0.41, 0.33, 0.26, 0.19, 0.14, 0.10, 0.06],
    [0.01, 0.00, -0.01, -0.02, -0.03, -0.04, -0.04, -0.01, 0.05, 0.13, 0.22, 0.30, 0.37, 0.41, 0.42, 0.41, 0.37, 0.31, 0.25, 0.20, 0.15, 0.11, 0.07, 0.05],
    [0.01, 0.00, -0.01, -0.01, -0.02, -0.03, -0.03, 0.00, 0.04, 0.10, 0.17, 0.23, 0.28, 0.32, 0.33, 0.32, 0.29, 0.24, 0.20, 0.15, 0.11, 0.08, 0.06, 0.04],
    [0.00, 0.00, 0.00, -0.01, -0.02, -0.02, -0.02, 0.00, 0.03, 0.08, 0.13, 0.18, 0.22, 0.25, 0.26, 0.25, 0.23, 0.19, 0.15, 0.12, 0.09, 0.07, 0.05, 0.03],
    [0.00, 0.00, 0.00, -0.01, -0.01, -0.01, -0.01, 0.00, 0.02, 0.06, 0.10, 0.13, 0.16, 0.18, 0.19, 0.19, 0.17, 0.14, 0.11, 0.09, 0.07, 0.05, 0.04, 0.03],
    [0.00, 0.00, 0.00, 0.00, -0.01, -0.01, -0.01, 0.00, 0.02, 0.05, 0.08, 0.10, 0.12, 0.14, 0.15, 0.15, 0.13, 0.11, 0.09, 0.07, 0.05, 0.04, 0.03, 0.02],
    [0.00, 0.00, 0.00, 0.00, 0.00, -0.01, -0.01, 0.00, 0.02, 0.04, 0.06, 0.08, 0.10, 0.11, 0.12, 0.12, 0.11, 0.09, 0.07, 0.06, 0.04, 0.03, 0.02, 0.02],
]

# ======================= building blocks =======================
FONT = "Liberation Sans"
SERIF = "Liberation Serif"
AXIS_COLOR = "#8a8a8a"
LABEL_COLOR = "#666666"
NUM_FMT = "~f"

CELL_W = [593, 575, 530]
CELL_H = [369, 358, 400]
X_RANGES = [[138.5, 563.5], [106.6, 531.6], [92.3, 518.3]]
Y_RANGES_C1 = [[343.8, 17.65], [332.8, 6.65], [332.8, 6.65]]
Y_RANGES_C23 = [[344.1, 16.6], [333.1, 5.6], [333.1, 5.6]]


def to_long(xs, series, classes):
    rows = []
    for cls, ys in zip(classes, series):
        seg, gap = 0, True
        for x, y in zip(xs, ys):
            if y is None:
                gap = True
                continue
            if gap:
                seg += 1
                gap = False
            rows.append({"x": x, "y": y, "cls": cls, "seg": f"{cls}_{seg}"})
    return pd.DataFrame(rows, columns=["x", "y", "cls", "seg"])


def x_axis(values, offset, label_expr=None, show_labels=True):
    kw = dict(values=values, title=None, grid=False, orient="bottom", offset=offset,
              domainColor=AXIS_COLOR, domainWidth=1.6, tickColor=AXIS_COLOR, tickSize=4,
              tickWidth=1.2, labels=show_labels, labelColor=LABEL_COLOR, labelFont=FONT,
              labelFontSize=17, labelPadding=3, labelFlush=False, labelOverlap=False, format=NUM_FMT)
    if label_expr is not None:
        kw["labelExpr"] = label_expr
    return alt.Axis(**kw)


def y_axis(values, offset, label_expr=None):
    kw = dict(values=values, title=None, grid=False, orient="left", offset=offset,
              domainColor=AXIS_COLOR, domainWidth=1.6, tickColor=AXIS_COLOR, tickSize=4,
              tickWidth=1.2, labelColor=LABEL_COLOR, labelFont=FONT, labelFontSize=17,
              labelPadding=4, labelFlush=False, labelOverlap=False, format=NUM_FMT)
    if label_expr is not None:
        kw["labelExpr"] = label_expr
    return alt.Axis(**kw)


def text_layer(txt, x, y, size, angle=0, align="center", baseline="middle",
               font=FONT, weight="normal", color=LABEL_COLOR):
    return alt.Chart(pd.DataFrame({"t": [txt]})).mark_text(
        angle=angle, align=align, baseline=baseline, font=font, fontSize=size,
        fontWeight=weight, color=color
    ).encode(x=alt.value(x), y=alt.value(y), text="t:N")


def colorbar(edges, ticks, classes, colors, dom, rng, title, title_x):
    cb_df = pd.DataFrame({"x0": edges[:-1], "x1": edges[1:], "cb": classes})
    cxs = alt.Scale(domain=dom, range=rng, nice=False, zero=False)
    rect = alt.Chart(cb_df).mark_rect(stroke="#333333", strokeWidth=0.8).encode(
        x=alt.X("x0:Q", scale=cxs, axis=None), x2="x1:Q",
        y=alt.value(40), y2=alt.value(55),
        fill=alt.Fill("cb:N", scale=alt.Scale(domain=classes, range=colors), legend=None))
    lbl = alt.Chart(pd.DataFrame({"v": ticks})).mark_text(
        font=FONT, fontSize=17, color=LABEL_COLOR, baseline="middle").encode(
        x=alt.X("v:Q", scale=cxs, axis=None), y=alt.value(72.6),
        text=alt.Text("v:Q", format=NUM_FMT))
    ttl = text_layer(title, title_x, 105.5, 17)
    return alt.layer(rect, lbl, ttl)


def panel(data_df, model_df, classes, colors, xdom, xrng, ydom, yrng, w, h, xax, yax,
          psize, lwidth, extras=(), cbar=None):
    xs = alt.Scale(domain=xdom, range=xrng, nice=False, zero=False)
    ys = alt.Scale(domain=ydom, range=yrng, nice=False, zero=False)
    cs = alt.Scale(domain=classes, range=colors)
    X = alt.X("x:Q", scale=xs, axis=xax)
    Y = alt.Y("y:Q", scale=ys, axis=yax)
    C = alt.Color("cls:N", scale=cs, legend=None)
    model = alt.Chart(model_df).mark_line(strokeWidth=1.1, interpolate="monotone").encode(
        x=X, y=Y, color=C, detail="cls:N")
    dline = alt.Chart(data_df).mark_line(strokeWidth=lwidth).encode(
        x=X, y=Y, color=C, detail="seg:N")
    dpts = alt.Chart(data_df).mark_point(filled=True, size=psize, opacity=1).encode(
        x=X, y=Y, color=C)
    body = alt.layer(model, dline, dpts, *extras)
    if cbar is not None:
        body = alt.layer(body, cbar).resolve_scale(x="independent", fill="independent")
    return body.properties(width=w, height=h)


def ylabel_parts(sub, bottom):
    main_w = 49.0
    sub_w = {"PF": 15.3, "TMI": 20.7, "Buoy": 27.3}[sub]
    return [
        text_layer(YLABEL_MAIN, 35, bottom, 17, angle=270, align="left"),
        text_layer(sub, 40, bottom - main_w - 1, 12, angle=270, align="left"),
        text_layer(YLABEL_UNIT, 35, bottom - main_w - 1 - sub_w - 5, 17, angle=270, align="left"),
    ]


def row_title(i, y):
    return text_layer(ROW_TITLES[i], 33, y, 47, angle=270, font=SERIF, weight="bold", color="black")


def col_title(i, x):
    return text_layer(COL_TITLES[i], x, 392, 48, baseline="alphabetic", weight="bold", color="black")


LAST = "substring(datum.label, length(datum.label) - 1)"

# legend (row 2, col 1)
LEG_COLOR = "#4AA8D8"
legend_box = alt.Chart(pd.DataFrame({"k": [0]})).mark_rect(
    fill="white", stroke="#555555", strokeWidth=1.5).encode(
    x=alt.value(395), x2=alt.value(551), y=alt.value(19), y2=alt.value(68))
legend_data_line = alt.Chart(pd.DataFrame({"k": [0]})).mark_rule(
    color=LEG_COLOR, strokeWidth=1.3).encode(x=alt.value(408), x2=alt.value(453), y=alt.value(32))
legend_model_line = alt.Chart(pd.DataFrame({"k": [0]})).mark_rule(
    color=LEG_COLOR, strokeWidth=1.3).encode(x=alt.value(408), x2=alt.value(453), y=alt.value(54))
legend_dot = alt.Chart(pd.DataFrame({"k": [0]})).mark_point(
    filled=True, color=LEG_COLOR, size=20, opacity=1).encode(x=alt.value(430), y=alt.value(32))
legend_texts = [text_layer(LEGEND_LABELS[0], 466, 32, 18, align="left", color="#777777"),
                text_layer(LEGEND_LABELS[1], 466, 54, 18, align="left", color="#777777")]

# ======================= panels =======================
p11 = panel(to_long(IR_WS_X, IR_WS_DATA, INSOL_CLASSES),
            to_long(IR_WS_MODEL_X, IR_WS_MODEL, INSOL_CLASSES),
            INSOL_CLASSES, INSOL_COLORS, [0, 10], X_RANGES[0], [-0.4, 3], Y_RANGES_C1[0],
            CELL_W[0], CELL_H[0], x_axis(WS_TICKS, -25.2), y_axis(Y3_TICKS, -138.5),
            18, 1.6, extras=[row_title(0, 189.5)],
            cbar=colorbar(INSOL_CB_EDGES, INSOL_CB_TICKS, INSOL_CLASSES, INSOL_COLORS,
                          [25, 350], [156, 558], CB_TITLES[0], 355))

p12 = panel(to_long(IR_INS_X, IR_INS_DATA, WIND_CLASSES),
            to_long(IR_INS_MODEL_X, IR_INS_MODEL, WIND_CLASSES),
            WIND_CLASSES, WIND_COLORS, [0, 376], X_RANGES[1], [-0.4, 2.8], Y_RANGES_C23[0],
            CELL_W[1], CELL_H[0], x_axis(INS_TICKS, -24.9), y_axis(Y25_TICKS, -106.6),
            12, 2.8, extras=ylabel_parts("PF", 238.4),
            cbar=colorbar(WIND_CB_EDGES, WIND_CB_TICKS, WIND_CLASSES, WIND_COLORS,
                          [0.5, 10.5], [123.3, 524.3], CB_TITLES[1], 320))

p13 = panel(to_long(HOURS, IR_LT_DATA, WIND_CLASSES),
            to_long(HOURS, IR_LT_MODEL, WIND_CLASSES),
            WIND_CLASSES, WIND_COLORS, [1, 24], X_RANGES[2], [-0.4, 2.8], Y_RANGES_C23[0],
            CELL_W[2], CELL_H[0], x_axis(LT_TICKS, -24.9), y_axis(Y25_TICKS, -92.3, LAST),
            18, 1.4,
            cbar=colorbar(WIND_CB_EDGES, WIND_CB_TICKS, WIND_CLASSES, WIND_COLORS,
                          [0.5, 10.5], [107, 508], CB_TITLES[2], 305))

p21 = panel(to_long(MW_WS_X, MW_WS_DATA, MW_CLASSES),
            to_long(MW_WS_MODEL_X, MW_WS_MODEL, MW_CLASSES),
            MW_CLASSES, MW_COLORS, [0, 10], X_RANGES[0], [-0.4, 3], Y_RANGES_C1[1],
            CELL_W[0], CELL_H[1], x_axis(WS_TICKS, -25.2), y_axis(Y3_TICKS, -138.5),
            18, 1.6,
            extras=[row_title(1, 172.4), legend_box, legend_data_line, legend_model_line,
                    legend_dot] + legend_texts)

p22 = panel(to_long(TMI_X, TMI_DATA, WIND_CLASSES),
            to_long(TMI_MODEL_X, TMI_MODEL, WIND_CLASSES),
            WIND_CLASSES, WIND_COLORS, [0, 376], X_RANGES[1], [-0.4, 2.8], Y_RANGES_C23[1],
            CELL_W[1], CELL_H[1], x_axis(INS_TICKS, -24.9), y_axis(Y25_TICKS, -106.6),
            14, 2.2, extras=ylabel_parts("TMI", 231.7))

p23 = panel(to_long(HOURS, MW_LT_DATA, WIND_CLASSES),
            to_long(HOURS, MW_LT_MODEL, WIND_CLASSES),
            WIND_CLASSES, WIND_COLORS, [1, 24], X_RANGES[2], [-0.4, 2.8], Y_RANGES_C23[1],
            CELL_W[2], CELL_H[1], x_axis(LT_TICKS, -24.9), y_axis(Y25_TICKS, -92.3, LAST),
            18, 1.4)

p31 = panel(to_long(BUOY_WS_X, BUOY_WS_DATA, BUOY_CLASSES),
            to_long(BUOY_WS_MODEL_X, BUOY_WS_MODEL, BUOY_CLASSES),
            BUOY_CLASSES, BUOY_COLORS, [0, 10], X_RANGES[0], [-0.4, 3], Y_RANGES_C1[2],
            CELL_W[0], CELL_H[2],
            x_axis(WS_TICKS, -67.2, label_expr="datum.value == 0 ? '0' : ''"),
            y_axis(Y3_TICKS, -138.5), 18, 1.6,
            extras=[row_title(2, 175), col_title(0, 372)])

p32 = panel(to_long(BUOY_INS_X, BUOY_INS_DATA, WIND_CLASSES),
            to_long(BUOY_INS_MODEL_X, BUOY_INS_MODEL, WIND_CLASSES),
            WIND_CLASSES, WIND_COLORS, [0, 376], X_RANGES[1], [-0.4, 2.8], Y_RANGES_C23[2],
            CELL_W[1], CELL_H[2], x_axis(INS_TICKS, -66.9, show_labels=False),
            y_axis(Y25_TICKS, -106.6), 14, 2.2,
            extras=ylabel_parts("Buoy", 238) + [col_title(1, 320)])

p33 = panel(to_long(HOURS, BUOY_LT_DATA, WIND_CLASSES),
            to_long(HOURS, BUOY_LT_MODEL, WIND_CLASSES),
            WIND_CLASSES, WIND_COLORS, [1, 24], X_RANGES[2], [-0.4, 2.8], Y_RANGES_C23[2],
            CELL_W[2], CELL_H[2], x_axis(LT_TICKS, -66.9, show_labels=False),
            y_axis(Y25_TICKS, -92.3, LAST), 18, 1.4,
            extras=[col_title(2, 279)])

chart = alt.concat(
    p11, p12, p13, p21, p22, p23, p31, p32, p33,
    columns=3, spacing=0, bounds="flush", align="each"
).resolve_scale(
    x="independent", y="independent", color="independent", fill="independent"
).properties(
    background="#66CCFF", padding=4
).configure_view(fill="white", stroke="white", strokeWidth=2)

chart.save("out.html", embed_options={"renderer": "svg", "actions": False})
